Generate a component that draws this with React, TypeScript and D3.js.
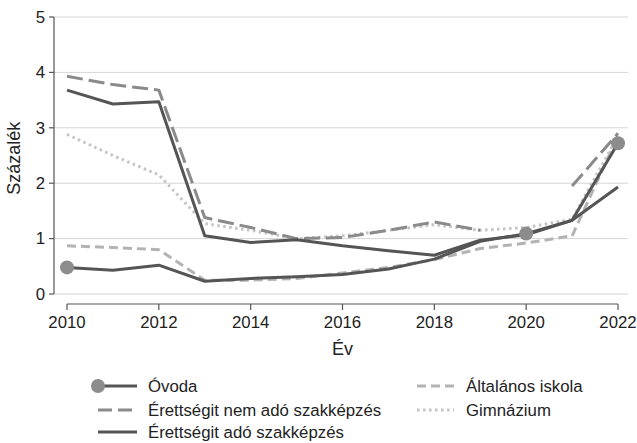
import React from "react";
import * as d3 from "d3";

const years = [2010, 2011, 2012, 2013, 2014, 2015, 2016, 2017, 2018, 2019, 2020, 2021, 2022];
const ovoda: (number | null)[] = [0.48, 0.43, 0.52, 0.23, 0.28, 0.31, 0.35, 0.45, 0.63, 0.95, 1.09, 1.33, 2.72];
const nemAdo: (number | null)[] = [3.93, 3.78, 3.68, 1.38, 1.2, 1.0, 1.02, 1.15, 1.3, 1.15, null, 1.95, 2.9];
const adoSzak: (number | null)[] = [3.68, 3.43, 3.47, 1.05, 0.93, 0.98, 0.87, 0.78, 0.7, 0.97, 1.07, 1.33, 1.93];
const altalanos: (number | null)[] = [0.87, 0.84, 0.8, 0.25, 0.25, 0.28, 0.38, 0.48, 0.62, 0.82, 0.92, 1.05, 2.85];
const gimnazium: (number | null)[] = [2.88, 2.5, 2.15, 1.27, 1.15, 1.0, 1.05, 1.15, 1.25, 1.15, 1.2, 1.35, 2.85];
const ovodaMarkerYears = [2010, 2020, 2022];
const xTicks = [2010, 2012, 2014, 2016, 2018, 2020, 2022];
const yTicks = [0, 1, 2, 3, 4, 5];

const FONT = "Liberation Sans, Arial, sans-serif";
const FS = 16.8;
const TS = 18;

export default function App() {
  const W = 637, H = 443;
  const x = d3.scaleLinear().domain([2010, 2022]).range([67, 618]);
  const y = d3.scaleLinear().domain([0, 5]).range([294, 17]);
  const mk = (vals: (number | null)[]) =>
    d3.line<number>()
      .defined((_, i) => vals[i] != null)
      .x((d) => x(d))
      .y((_, i) => y(vals[i] as number))(years) || "";

  const series = [
    { vals: altalanos, color: "#b3b3b3", dash: "9,5", w: 3 },
    { vals: gimnazium, color: "#c4c4c4", dash: "2.5,3.5", w: 3 },
    { vals: nemAdo, color: "#8a8a8a", dash: "16,6", w: 3 },
    { vals: adoSzak, color: "#555555", dash: undefined, w: 3 },
    { vals: ovoda, color: "#555555", dash: undefined, w: 3 },
  ];

  const r1 = 386, r2 = 410, r3 = 432;

  return (
    <svg width={W} height={H} style={{ position: "absolute", left: 0, top: 0, background: "#fff" }} fontFamily={FONT}>
      <rect x={0} y={0} width={W} height={H} fill="#fff" />
      {yTicks.map((t) => (
        <line key={t} x1={54} x2={628} y1={y(t)} y2={y(t)} stroke="#d6d6d6" strokeWidth={1} />
      ))}
      {/* y axis */}
      <line x1={54} x2={54} y1={y(5)} y2={y(0)} stroke="#555" strokeWidth={1.2} />
      {yTicks.map((t) => (
        <g key={t}>
          <line x1={49} x2={54} y1={y(t)} y2={y(t)} stroke="#555" strokeWidth={1.2} />
          <text x={45} y={y(t)} dy="0.35em" textAnchor="end" fontSize={FS} fill="#222">{t}</text>
        </g>
      ))}
      {/* x axis */}
      <line x1={x(2010)} x2={x(2022)} y1={304} y2={304} stroke="#555" strokeWidth={1.2} />
      {xTicks.map((t) => (
        <g key={t}>
          <line x1={x(t)} x2={x(t)} y1={304} y2={310} stroke="#555" strokeWidth={1.2} />
          <text x={x(t)} y={328} textAnchor="middle" fontSize={FS} fill="#222">{t}</text>
        </g>
      ))}
      <text x={x(2016)} y={355} textAnchor="middle" fontSize={TS} fill="#222">Év</text>
      <text transform={`translate(20,${y(2.45)}) rotate(-90)`} textAnchor="middle" fontSize={TS} fill="#222">Százalék</text>
      {series.map((s, i) => (
        <path key={i} d={mk(s.vals)} fill="none" stroke={s.color} strokeWidth={s.w} strokeDasharray={s.dash} strokeLinejoin="round" />
      ))}
      {ovodaMarkerYears.map((yr) => {
        const v = ovoda[years.indexOf(yr)] as number;
        return <circle key={yr} cx={x(yr)} cy={y(v)} r={7} fill="#8c8c8c" />;
      })}
      {/* legend */}
      <g fontSize={FS} fill="#222">
        <line x1={98} x2={137} y1={r1} y2={r1} stroke="#555" strokeWidth={3} />
        <circle cx={98} cy={r1} r={7} fill="#8c8c8c" />
        <text x={148} y={r1} dy="0.35em">Óvoda</text>
        <line x1={98} x2={137} y1={r2} y2={r2} stroke="#8a8a8a" strokeWidth={3} strokeDasharray="14,6" />
        <text x={148} y={r2} dy="0.35em">Érettségit nem adó szakképzés</text>
        <line x1={98} x2={137} y1={r3} y2={r3} stroke="#555" strokeWidth={3} />
        <text x={148} y={r3} dy="0.35em">Érettségit adó szakképzés</text>
        <line x1={417} x2={454} y1={r1} y2={r1} stroke="#b3b3b3" strokeWidth={3} strokeDasharray="9,5" />
        <text x={466} y={r1} dy="0.35em">Általános iskola</text>
        <line x1={417} x2={454} y1={r2} y2={r2} stroke="#c4c4c4" strokeWidth={3} strokeDasharray="2.5,3.5" />
        <text x={466} y={r2} dy="0.35em">Gimnázium</text>
      </g>
    </svg>
  );
}
